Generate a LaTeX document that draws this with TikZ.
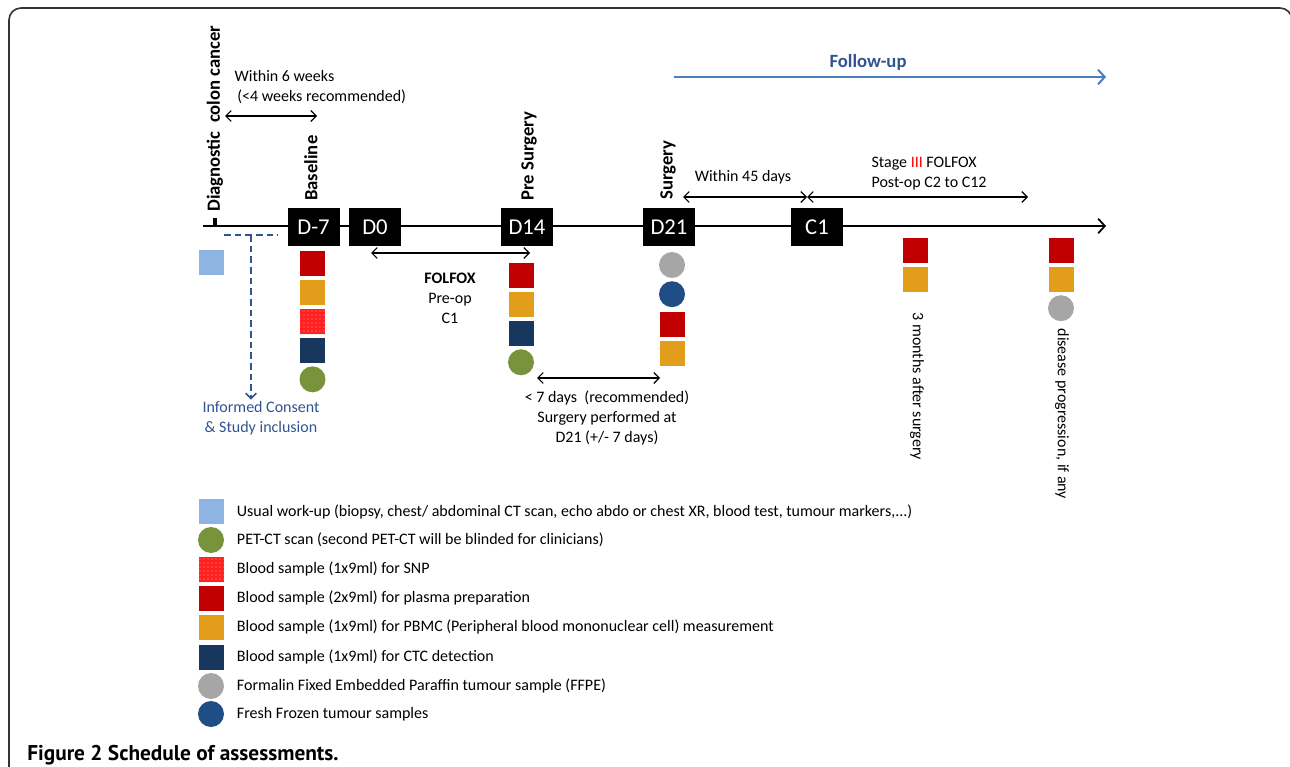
\documentclass[tikz,border=0pt]{standalone}
\usepackage{fontspec}
\setmainfont{Carlito}
\newfontfamily\capfont{PT Sans}
\usetikzlibrary{positioning,arrows.meta,patterns}
\definecolor{usualblue}{HTML}{8DB4E2}
\definecolor{plasmared}{HTML}{C00000}
\definecolor{pbmcorange}{HTML}{E29E1A}
\definecolor{snpred}{HTML}{FF2020}
\definecolor{ctcnavy}{HTML}{17375E}
\definecolor{petgreen}{HTML}{77933C}
\definecolor{ffpegray}{HTML}{A6A6A6}
\definecolor{frozenblue}{HTML}{1F4E86}
\definecolor{followblue}{HTML}{4A7EBB}
\definecolor{consentblue}{HTML}{2F5491}
\def\frame{(9,780) -- (9,8) -- (1292,8) -- (1292,780)}
\tikzset{
>={Straight Barb[length=4pt,width=8pt]},
daybox/.style={fill=black, text=white, minimum width=39pt, minimum height=29pt, inner sep=0pt, font=\fontsize{17}{17}\selectfont},
sq/.style={rectangle, fill=#1, draw=white, line width=0.3pt, minimum size=19.5pt, inner sep=0pt},
dot/.style={circle, fill=#1, minimum size=19.5pt, inner sep=0pt},
snp/.style={sq=snpred, postaction={pattern=dots, pattern color=white!60!red}},
phase/.style={rotate=90, anchor=west, inner sep=0pt, font=\fontsize{14}{14}\selectfont\bfseries},
span/.style={<->, line width=0.9pt},
txt/.style={font=\fontsize{12}{15}\selectfont, align=center, inner sep=1pt},
legtxt/.style={anchor=west, font=\fontsize{12}{14}\selectfont}
}
\begin{document}
\begin{tikzpicture}[x=0.75pt,y=-0.75pt]
\useasboundingbox (0,0) rectangle (1290,767);
\draw[line width=1.2pt, black!80, rounded corners=9pt] \frame;
% time line
\coordinate (tstart) at (203,226);
\coordinate (tend) at (1106,226);
\draw[line width=1.3pt, -{Straight Barb[length=5pt,width=11pt]}] (tstart) -- (tend);
\node[fill=black, minimum width=3pt, minimum height=6pt, inner sep=0pt, anchor=south] (diag) at (215,226) {};
\node[daybox] (dm7) at (313.5,227) {D-7};
\node[daybox] (d0) at (375,227) {D0};
\node[daybox] (d14) at (527,227) {D14};
\node[daybox] (d21) at (669,227) {D21};
\node[daybox] (c1) at (817,227) {C1};
\node[phase] (diaglbl) at (215,212) {Diagnostic\ \ colon cancer};
\node[phase] (baselbl) at (311,201) {Baseline};
\node[phase] (prelbl) at (529,201) {Pre Surgery};
\node[phase] (surglbl) at (668,200) {Surgery};
% follow-up
\coordinate (fustart) at (674,77);
\coordinate (fuend) at (1106,77);
\draw[followblue, line width=1.5pt, -{Straight Barb[length=5pt,width=11pt]}] (fustart) -- (fuend);
\node[font=\fontsize{14}{14}\selectfont\bfseries, text=consentblue] (fulbl) at (868,62) {Follow-up};
% spans
\coordinate (w6a) at (225,116);
\coordinate (w6b) at (317,116);
\draw[span] (w6a) -- (w6b);
\node[txt, align=left, anchor=west] (w6lbl) at (233,87) {Within 6 weeks\\\hspace{2pt}(<4 weeks recommended)};
\coordinate (fola) at (371,253);
\coordinate (folb) at (530,253);
\draw[span] (fola) -- (folb);
\node[txt] (follbl) at (450,298) {\textbf{FOLFOX}\\Pre-op\\C1};
\coordinate (sevena) at (537,378);
\coordinate (sevenb) at (660,378);
\draw[span] (sevena) -- (sevenb);
\node[txt] (sevenlbl) at (607,418) {< 7 days\ \ (recommended)\\Surgery performed at\\D21 (+/- 7 days)};
\coordinate (w45a) at (683,197);
\coordinate (c1top) at (807,197);
\coordinate (c12) at (1028,197);
\draw[span] (w45a) -- (c1top);
\draw[span] (c1top) -- (c12);
\node[txt] (w45lbl) at (743,177) {Within 45 days};
\node[txt, align=left, anchor=west] (stagelbl) at (870,174) {Stage \textcolor{red}{III} FOLFOX\\Post-op C2 to C12};
% consent
\node[sq=usualblue] (usual) at (211,262) {};
\coordinate (dasha) at (224,235);
\coordinate (dashb) at (278,235);
\coordinate (dashc) at (251,235);
\node[txt, text=consentblue] (consent) at (261,418) {Informed Consent\\\& Study inclusion};
\draw[consentblue, line width=1.2pt, dash pattern=on 5pt off 3pt] (dasha) -- (dashb);
\draw[consentblue, line width=1.2pt, dash pattern=on 5pt off 3pt, ->] (dashc) -- (dashc |- consent.north);
% baseline samples
\node[sq=plasmared] (bas1) at (312.5,263) {};
\node[sq=pbmcorange, below=2pt of bas1] (bas2) {};
\node[snp, below=2pt of bas2] (bas3) {};
\node[sq=ctcnavy, below=2pt of bas3] (bas4) {};
\node[dot=petgreen, below=2pt of bas4] (bas5) {};
% pre surgery samples
\node[sq=plasmared] (pre1) at (521,275) {};
\node[sq=pbmcorange, below=2pt of pre1] (pre2) {};
\node[sq=ctcnavy, below=2pt of pre2] (pre3) {};
\node[dot=petgreen, below=2pt of pre3] (pre4) {};
% surgery samples
\node[dot=ffpegray] (surg1) at (672,265) {};
\node[dot=frozenblue, below=2pt of surg1] (surg2) {};
\node[sq=plasmared, below=2.5pt of surg2] (surg3) {};
\node[sq=pbmcorange, below=2pt of surg3] (surg4) {};
% follow-up samples
\node[sq=plasmared] (mon1) at (915,250) {};
\node[sq=pbmcorange, below=2pt of mon1] (mon2) {};
\node[txt, rotate=-90, anchor=west] (monlbl) at (917,311) {3 months after surgery};
\node[sq=plasmared] (prog1) at (1061,250) {};
\node[sq=pbmcorange, below=2pt of prog1] (prog2) {};
\node[dot=ffpegray, below=2pt of prog2] (prog3) {};
\node[txt, rotate=-90, anchor=west] (proglbl) at (1062,327) {disease progression, if any};
% legend
\node[sq=usualblue] (leg1) at (211,511.5) {};
\node[dot=petgreen] (leg2) at (211,540) {};
\node[snp] (leg3) at (211,569) {};
\node[sq=plasmared] (leg4) at (211,598) {};
\node[sq=pbmcorange] (leg5) at (211,627) {};
\node[sq=ctcnavy] (leg6) at (211,657) {};
\node[dot=ffpegray] (leg7) at (211,686) {};
\node[dot=frozenblue] (leg8) at (211,714) {};
\node[legtxt, right=6pt of leg1] {Usual work-up (biopsy, chest/ abdominal CT scan, echo abdo or chest XR, blood test, tumour markers,...)};
\node[legtxt, right=6pt of leg2] {PET-CT scan (second PET-CT will be blinded for clinicians)};
\node[legtxt, right=6pt of leg3] {Blood sample (1x9ml) for SNP};
\node[legtxt, right=6pt of leg4] {Blood sample (2x9ml) for plasma preparation};
\node[legtxt, right=6pt of leg5] {Blood sample (1x9ml) for PBMC (Peripheral blood mononuclear cell) measurement};
\node[legtxt, right=6pt of leg6] {Blood sample (1x9ml) for CTC detection};
\node[legtxt, right=6pt of leg7] {Formalin Fixed Embedded Paraffin tumour sample (FFPE)};
\node[legtxt, right=6pt of leg8] {Fresh Frozen tumour samples};
\node[anchor=base west, inner sep=0pt, font=\capfont\bfseries\fontsize{16}{16}\selectfont] (caption) at (27,760) {Figure 2 Schedule of assessments.};
\end{tikzpicture}
\end{document}
